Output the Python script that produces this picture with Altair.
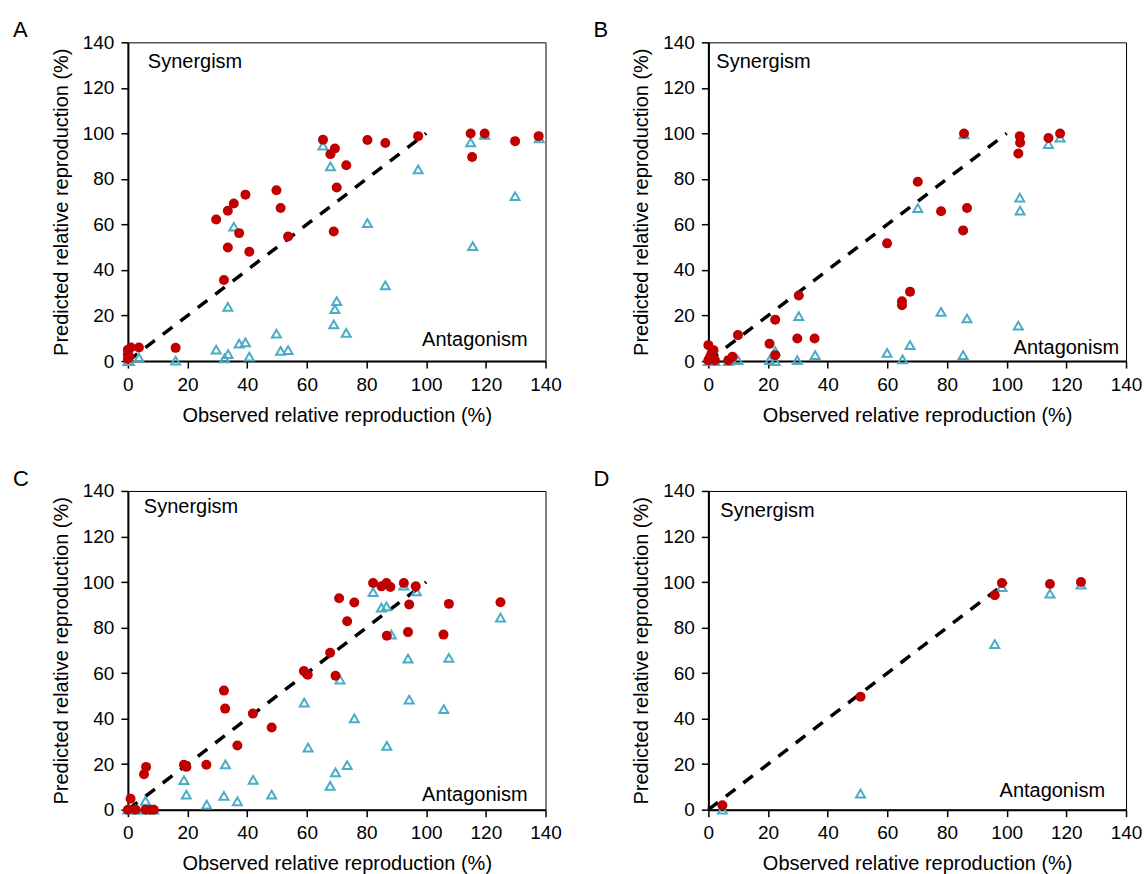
import altair as alt
import pandas as pd

# ---------------- data ----------------
# Panel A
a_obs_circ = [0, 0, 0, 0.5, 1, 3.7, 16, 29.6, 33.5, 35.5, 39.4, 37.3, 33.5, 40.7, 32.2, 49.8, 51.2, 53.7,
              65.4, 67.9, 69.4, 70, 69, 73.2, 80.3, 86.3, 97.3, 114.9, 115.4, 119.6, 129.8, 137.7]
a_pred_circ = [1, 3, 5, 2, 6, 6, 5.8, 62.2, 66, 69.2, 73.1, 56.2, 49.9, 48, 35.6, 75, 67.2, 54.7,
               97.2, 90.9, 93.4, 76.2, 56.9, 86, 97.1, 95.8, 98.8, 100, 89.6, 100, 96.6, 98.8]
a_obs_tri = [0, 0.5, 3.7, 16, 29.6, 32.4, 33.6, 35.5, 33.5, 37.3, 39.4, 40.7, 49.8, 51.2, 53.7,
             65.4, 67.9, 70, 69.4, 69, 73.2, 80.3, 86.3, 97.3, 114.9, 115.6, 119.6, 129.8, 137.9]
a_pred_tri = [0, 0, 1.5, 0.2, 5, 1.2, 3, 59, 23.8, 7.7, 8.2, 1.9, 12.1, 4.5, 4.8,
              94.6, 85.5, 26.3, 22.8, 16.1, 12.4, 60.6, 33.3, 84.2, 96.1, 50.5, 99.4, 72.4, 97.8]

# Panel B
b_obs_circ = [0, 1.7, 0.6, 2.2, 0, 1.1, 6.7, 8.1, 9.9, 20.5, 22.4, 22.4, 29.8, 30.3, 35.6, 59.9,
              64.9, 64.9, 67.6, 70.2, 78.0, 86.7, 85.4, 85.7, 104.4, 104.5, 103.9, 114, 117.9]
b_pred_circ = [7, 4.8, 1.9, 0.4, 0.4, 3.4, 0.4, 1.9, 11.4, 7.6, 18.2, 2.6, 9.9, 28.8, 9.9, 51.7,
               26.3, 24.5, 30.5, 78.8, 65.8, 67.2, 57.4, 100, 98.8, 95.9, 91.2, 98, 100]
b_obs_tri = [0, 2.2, 6.7, 9.9, 20.5, 22.4, 22.4, 29.8, 30.3, 35.8, 59.9, 65.1, 67.6, 70.2, 78,
             86.7, 85.4, 85.7, 104.4, 104.5, 103.9, 114, 117.9]
b_pred_tri = [0, 0, 0, 0.4, 0.4, 0, 4.4, 0.4, 19.7, 2.6, 3.6, 0.7, 7, 67.2, 21.6,
              18.7, 2.6, 99.6, 71.8, 66.1, 15.6, 95.3, 98.2]

# Panel C
c_obs_circ = [0.9, 0, 2.6, 5.9, 7.6, 8.7, 5.4, 6.1, 18.8, 19.6, 26.3, 32.2, 32.6, 36.7, 41.9, 48.2,
              59.0, 60.3, 67.8, 69.6, 70.8, 75.9, 73.5, 82.2, 85, 86.7, 88, 92.5, 96.5, 94.3,
              86.8, 93.9, 107.6, 105.8, 124.9]
c_pred_circ = [4.8, 0, 0, 0, 0, 0, 15.6, 18.8, 19.7, 18.8, 19.7, 52.3, 44.4, 28.2, 42.2, 36.1,
               60.9, 59.3, 68.9, 58.8, 92.9, 91, 82.8, 99.6, 98.1, 99.6, 97.8, 99.6, 98.1, 90.1,
               76.4, 78, 90.4, 76.9, 91.1]
c_obs_tri = [0, 2.6, 5.9, 5.9, 8.7, 18.8, 19.6, 26.4, 32.7, 32.2, 36.7, 42, 48.2, 59.1, 60.4, 67.8,
             69.6, 73.5, 71.1, 75.9, 82.2, 85, 86.7, 88.3, 86.8, 92.5, 96.7, 93.9, 94.3, 107.6,
             105.9, 124.9]
c_pred_tri = [0, 0, 3.9, 0, 0, 13, 6.6, 2.2, 19.9, 6.1, 3.6, 13.1, 6.6, 47, 27.3, 10.5,
              16.4, 19.6, 57.1, 40.1, 95.6, 88.8, 89.3, 76.9, 28, 98.4, 95.9, 66.4, 48.3, 66.7,
              44.2, 84.4]

# Panel D
d_obs_circ = [4.7, 51, 96, 98.4, 114.5, 124.9]
d_pred_circ = [1.9, 49.6, 94.2, 99.6, 99.1, 100]
d_obs_tri = [4.7, 51, 96, 98.4, 114.5, 124.9]
d_pred_tri = [0, 7, 72.7, 97.8, 94.9, 98.8]

# identity (additivity) line
diag_x = [0, 100]
diag_y = [0, 100]

axis_ticks = [0, 20, 40, 60, 80, 100, 120, 140]
x_title = "Observed relative reproduction (%)"
y_title = "Predicted relative reproduction (%)"

RED = "#C00000"
BLUE = "#4BACC6"
FONT = "Liberation Sans"
W, H = 418, 319


def panel(letter, obs_c, pred_c, obs_t, pred_t, syn_pos, ant_pos):
    xs = alt.Scale(domain=[0, 140], nice=False, zero=False)
    ys = alt.Scale(domain=[0, 140], nice=False, zero=False)
    xax = alt.Axis(values=axis_ticks, title=x_title)
    yax = alt.Axis(values=axis_ticks, title=y_title)

    line = alt.Chart(pd.DataFrame({"x": diag_x, "y": diag_y})).mark_line(
        color="black", strokeWidth=3.5, strokeDash=[12, 10]
    ).encode(x=alt.X("x:Q", scale=xs, axis=xax), y=alt.Y("y:Q", scale=ys, axis=yax))

    tri = alt.Chart(pd.DataFrame({"x": obs_t, "y": pred_t})).mark_point(
        shape="triangle-up", filled=False, color=BLUE, strokeWidth=2, size=80, opacity=1
    ).encode(x="x:Q", y="y:Q")

    circ = alt.Chart(pd.DataFrame({"x": obs_c, "y": pred_c})).mark_circle(
        color=RED, size=100, opacity=1
    ).encode(x="x:Q", y="y:Q")

    syn = alt.Chart(pd.DataFrame({"t": ["Synergism"]})).mark_text(
        font=FONT, fontSize=20, align="left", baseline="middle", color="black"
    ).encode(x=alt.value(syn_pos[0]), y=alt.value(syn_pos[1]), text="t:N")

    ant = alt.Chart(pd.DataFrame({"t": ["Antagonism"]})).mark_text(
        font=FONT, fontSize=20, align="right", baseline="middle", color="black"
    ).encode(x=alt.value(ant_pos[0]), y=alt.value(ant_pos[1]), text="t:N")

    let = alt.Chart(pd.DataFrame({"t": [letter]})).mark_text(
        font=FONT, fontSize=22, align="left", baseline="top", color="black"
    ).encode(x=alt.value(-115), y=alt.value(-22), text="t:N")

    return alt.layer(line, tri, circ, syn, ant, let).properties(width=W, height=H)


pA = panel("A", a_obs_circ, a_pred_circ, a_obs_tri, a_pred_tri, (20, 20), (W - 18, H - 21))
pB = panel("B", b_obs_circ, b_pred_circ, b_obs_tri, b_pred_tri, (8, 20), (W - 7, H - 13))
pC = panel("C", c_obs_circ, c_pred_circ, c_obs_tri, c_pred_tri, (16, 16), (W - 18, H - 15))
pD = panel("D", d_obs_circ, d_pred_circ, d_obs_tri, d_pred_tri, (12, 20), (W - 21, H - 19))

chart = alt.concat(
    pA, pB, pC, pD, columns=2,
    spacing=alt.RowColnumber(row=130, column=163), bounds="flush"
).properties(
    padding={"left": 12, "top": 18, "right": 2, "bottom": 2},
    background="white",
).configure_view(
    stroke="black", strokeWidth=1
).configure_axis(
    grid=False,
    domainColor="black", domainWidth=2,
    tickColor="black", tickWidth=1.5, tickSize=7,
    labelFont=FONT, labelFontSize=19, labelColor="black", labelPadding=7,
    labelFlush=False, labelOverlap=False,
    titleFont=FONT, titleFontSize=20, titleFontWeight="normal", titleColor="black",
    titlePadding=11,
)

chart.save("out.html", embed_options={"renderer": "svg", "actions": False})
